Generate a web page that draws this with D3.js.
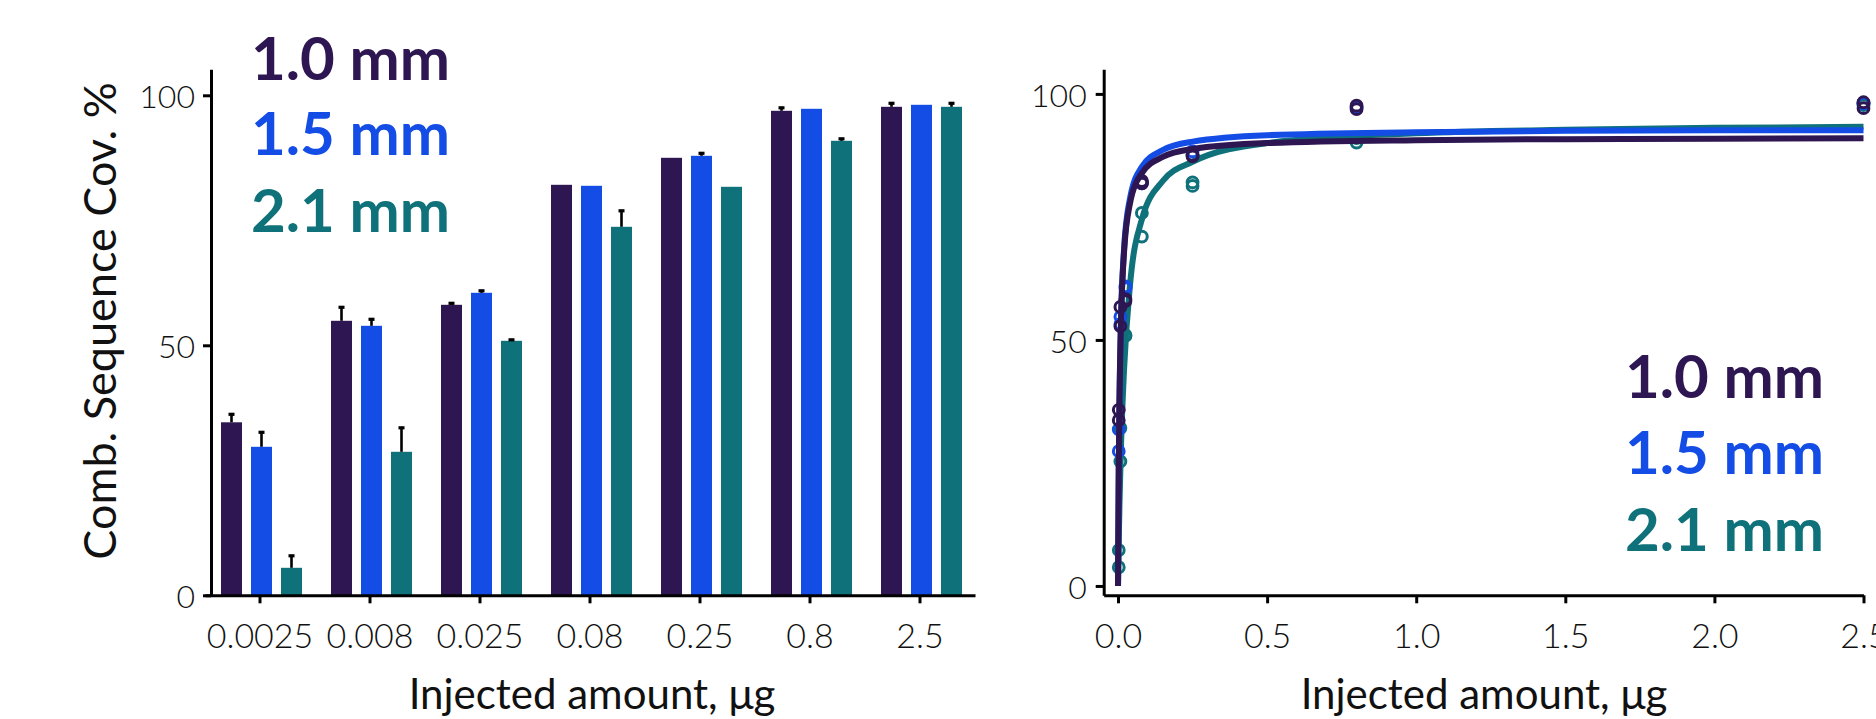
<!DOCTYPE html>
<html>
<head>
<meta charset="utf-8">
<script src="https://cdn.jsdelivr.net/npm/d3@7"></script>
<style>
  html, body { margin: 0; padding: 0; background: #fff; }
  text { font-family: Lato, "Open Sans", sans-serif; }
</style>
</head>
<body>
<div id="chart"></div>
<script>
// Sequence coverage vs injected amount, three column diameters.
// Left: bar chart (mean + upper SD), right: replicates with saturation fits.

const doseLabels = ["0.0025", "0.008", "0.025", "0.08", "0.25", "0.8", "2.5"];
const doseValues = [0.0025, 0.008, 0.025, 0.08, 0.25, 0.8, 2.5];

const columnKeys   = ["c10", "c15", "c21"];
const columnLabels = ["1.0 mm", "1.5 mm", "2.1 mm"];
const columnColors = ["#2d1651", "#134de6", "#0f717a"];

// bar heights (mean %) and upper error (SD)
const mean10 = [34.6, 54.9, 58.1, 82.1, 87.5, 96.9, 97.7];
const mean15 = [29.7, 53.9, 60.5, 81.9, 87.9, 97.3, 98.1];
const mean21 = [5.5, 28.7, 50.9, 73.7, 81.7, 90.9, 97.7];
const sd10   = [1.6, 2.7, 0.3, 0, 0, 0.6, 0.7];
const sd15   = [2.9, 1.3, 0.4, 0, 0.5, 0, 0];
const sd21   = [2.4, 4.8, 0.2, 3.2, 0, 0.4, 0.7];

// replicate measurements (right panel)
const repA10 = [35.8, 56.7, 57.9, 81.8, 87.3, 97.6, 98.3];
const repB10 = [33.7, 52.8, 58.3, 82.3, 87.6, 96.9, 97.1];
const repA15 = [31.8, 54.7, 60.5, 81.8, 87.6, 97.3, 98.1];
const repB15 = [27.4, 53.2, 60.9, 82.0, 88.3, 97.3, 98.1];
const repA21 = [7.3, 25.3, 50.8, 75.8, 81.3, 90.1, 97.7];
const repB21 = [3.8, 32.1, 51.0, 71.0, 82.0, 91.0, 98.0];

// fitted curves
const fitX   = [0, 0.0025, 0.005, 0.01, 0.02, 0.04, 0.08, 0.15, 0.25, 0.5, 1.0, 1.5, 2.0, 2.5];
const fit10  = [0, 24.0, 38.0, 53.7, 67.6, 77.7, 83.9, 87.2, 88.8, 90.0, 90.6, 90.8, 90.9, 91.0];
const fit15  = [0, 23.9, 38.1, 54.0, 68.3, 78.7, 85.2, 88.6, 90.3, 91.6, 92.2, 92.5, 92.6, 92.6];
const fit21  = [0, 9.2, 16.8, 28.4, 43.7, 61.0, 74.5, 82.3, 86.2, 90.0, 92.0, 92.7, 93.1, 93.3];

const leftYTicks  = [0, 50, 100];
const rightYTicks = [0, 50, 100];
const rightXTicks = [0, 0.5, 1.0, 1.5, 2.0, 2.5];

const series = [
  { key: "c10", label: columnLabels[0], color: columnColors[0], mean: mean10, sd: sd10, reps: [repA10, repB10], fit: fit10 },
  { key: "c15", label: columnLabels[1], color: columnColors[1], mean: mean15, sd: sd15, reps: [repA15, repB15], fit: fit15 },
  { key: "c21", label: columnLabels[2], color: columnColors[2], mean: mean21, sd: sd21, reps: [repA21, repB21], fit: fit21 },
];

const W = 1876, H = 719;
const axisY = 595.3;
const xTickFont = "34px";
const yTickFont = "32px";
const titleFont = "42px";

const svg = d3.select("#chart").append("svg")
  .attr("width", W)
  .attr("height", H)
  .style("display", "block");

svg.append("rect").attr("width", W).attr("height", H).attr("fill", "#fff");

function styleAxis(g, fontSize) {
  g.select(".domain").attr("stroke", "#000").attr("stroke-width", 3);
  g.selectAll(".tick line").attr("stroke", "#000").attr("stroke-width", 3);
  g.selectAll(".tick text")
    .attr("fill", "#111")
    .attr("font-family", "Lato, 'Open Sans', sans-serif")
    .attr("font-weight", 300)
    .attr("font-size", fontSize);
}

function drawLegend(x, baselines) {
  series.forEach((s, i) => {
    svg.append("text")
      .attr("x", x)
      .attr("y", baselines[i])
      .attr("fill", s.color)
      .attr("font-size", "60px")
      .attr("font-weight", 700)
      .text(s.label);
  });
}

// ── LEFT PANEL: grouped bars ────────────────────────────────────────────────

const xGroup = d3.scaleBand()
  .domain(doseLabels)
  .range([205, 975])
  .padding(0);

const xSeries = d3.scaleBand()
  .domain(columnKeys)
  .range([16, 97])
  .paddingInner(0.3);

const yLeft = d3.scaleLinear()
  .domain([0, 105.2])
  .range([axisY, 69.3]);

const left = svg.append("g");

series.forEach(s => {
  const g = left.append("g");

  g.selectAll("rect")
    .data(s.mean)
    .join("rect")
    .attr("x", (v, i) => xGroup(doseLabels[i]) + xSeries(s.key))
    .attr("y", v => yLeft(v))
    .attr("width", xSeries.bandwidth())
    .attr("height", v => yLeft(0) - yLeft(v))
    .attr("fill", s.color);

  const withErr = s.mean.map((v, i) => ({ v, sd: s.sd[i], i })).filter(d => d.sd > 0.1);
  const cx = d => xGroup(doseLabels[d.i]) + xSeries(s.key) + xSeries.bandwidth() / 2;

  g.selectAll("line.err")
    .data(withErr)
    .join("line")
    .attr("class", "err")
    .attr("x1", cx).attr("x2", cx)
    .attr("y1", d => yLeft(d.v))
    .attr("y2", d => yLeft(d.v + d.sd))
    .attr("stroke", "#000")
    .attr("stroke-width", 2.6);

  g.selectAll("line.cap")
    .data(withErr)
    .join("line")
    .attr("class", "cap")
    .attr("x1", d => cx(d) - 3).attr("x2", d => cx(d) + 3)
    .attr("y1", d => yLeft(d.v + d.sd))
    .attr("y2", d => yLeft(d.v + d.sd))
    .attr("stroke", "#000")
    .attr("stroke-width", 3.2);
});

left.append("g")
  .attr("transform", `translate(0, ${axisY})`)
  .call(d3.axisBottom(xGroup).tickSize(8).tickSizeOuter(0))
  .call(g => styleAxis(g, xTickFont))
  .call(g => g.selectAll(".tick text").attr("y", 53).attr("dy", 0));

left.append("g")
  .attr("transform", "translate(211, 0)")
  .call(d3.axisLeft(yLeft).tickValues(leftYTicks).tickSize(8).tickSizeOuter(0).tickPadding(8))
  .call(g => styleAxis(g, yTickFont))
  .call(g => g.selectAll(".tick text").attr("dy", "0.38em"));

svg.append("text")
  .attr("x", 592)
  .attr("y", 709)
  .attr("text-anchor", "middle")
  .attr("font-size", titleFont)
  .attr("font-weight", 400)
  .attr("fill", "#111")
  .text("Injected amount, μg");

svg.append("text")
  .attr("transform", "translate(116, 321) rotate(-90)")
  .attr("text-anchor", "middle")
  .attr("font-size", "45px")
  .attr("font-weight", 400)
  .attr("fill", "#111")
  .text("Comb. Sequence Cov. %");

drawLegend(251, [80, 155, 232]);

// ── RIGHT PANEL: replicates + fitted curves ─────────────────────────────────

const xRight = d3.scaleLinear()
  .domain([-0.048, 2.5])
  .range([1103.7, 1863.5]);

const yRight = d3.scaleLinear()
  .domain([-1.9, 105])
  .range([axisY, 69.3]);

const right = svg.append("g");

right.append("g")
  .attr("transform", `translate(0, ${axisY})`)
  .call(d3.axisBottom(xRight).tickValues(rightXTicks).tickFormat(d3.format(".1f")).tickSize(8).tickSizeOuter(0))
  .call(g => styleAxis(g, xTickFont))
  .call(g => g.selectAll(".tick text").attr("y", 53).attr("dy", 0));

right.append("g")
  .attr("transform", "translate(1103.7, 0)")
  .call(d3.axisLeft(yRight).tickValues(rightYTicks).tickSize(8).tickSizeOuter(0).tickPadding(9))
  .call(g => styleAxis(g, yTickFont))
  .call(g => g.selectAll(".tick text").attr("dy", "0.38em"));

const fitLine = d3.line()
  .x((v, i) => xRight(fitX[i]))
  .y(v => yRight(v))
  .curve(d3.curveMonotoneX);

// Prism draws each data set's points, then its curve; 2.1 mm first
[2, 1, 0].forEach(k => {
  const s = series[k];
  const pts = [];
  s.reps.forEach(rep => rep.forEach((v, i) => pts.push({ x: doseValues[i], y: v })));

  right.append("g")
    .selectAll("circle")
    .data(pts)
    .join("circle")
    .attr("cx", d => xRight(d.x))
    .attr("cy", d => yRight(d.y))
    .attr("r", 5.4)
    .attr("fill", "none")
    .attr("stroke", s.color)
    .attr("stroke-width", 3);

  right.append("path")
    .datum(s.fit)
    .attr("fill", "none")
    .attr("stroke", s.color)
    .attr("stroke-width", 6)
    .attr("stroke-linejoin", "round")
    .attr("d", fitLine);
});

svg.append("text")
  .attr("x", 1484)
  .attr("y", 709)
  .attr("text-anchor", "middle")
  .attr("font-size", titleFont)
  .attr("font-weight", 400)
  .attr("fill", "#111")
  .text("Injected amount, μg");

drawLegend(1625, [397.7, 474, 550.7]);
</script>
</body>
</html>
